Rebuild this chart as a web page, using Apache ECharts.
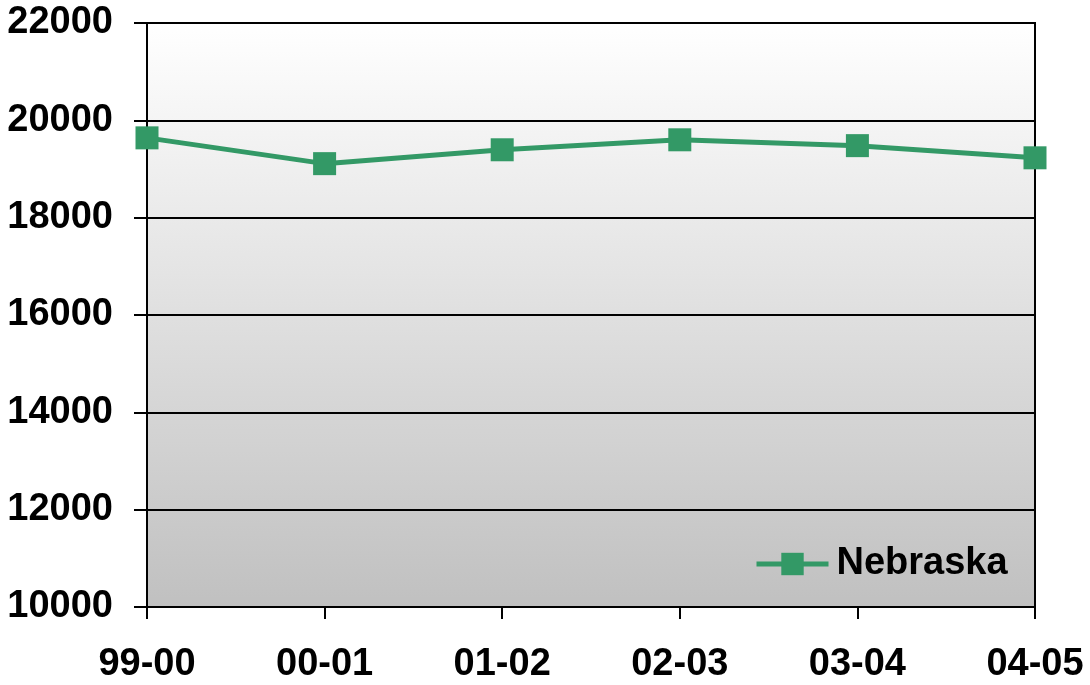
<!DOCTYPE html>
<html>
<head>
<meta charset="utf-8">
<script src="https://cdn.jsdelivr.net/npm/echarts@6/dist/echarts.min.js"></script>
<style>
  html, body { margin: 0; padding: 0; background: #ffffff; }
  #chart { width: 1090px; height: 685px; }
</style>
</head>
<body>
<div id="chart"></div>
<script>
// School years on the category axis
const years = ['99-00', '00-01', '01-02', '02-03', '03-04', '04-05'];
// Nebraska yearly values
const nebraska = [19640, 19110, 19395, 19600, 19480, 19230];
// Value axis range and step
const yMin = 10000;
const yMax = 22000;
const yStep = 2000;

const font = '"Liberation Sans", Arial, sans-serif';
const green = '#339966';

const chart = echarts.init(document.getElementById('chart'), null, { renderer: 'canvas' });

chart.setOption({
  animation: false,
  backgroundColor: '#ffffff',
  grid: {
    left: 147,
    right: 55,
    top: 23,
    bottom: 78,
    show: true,
    borderColor: '#000000',
    borderWidth: 2,
    backgroundColor: new echarts.graphic.LinearGradient(0, 0, 0, 1, [
      { offset: 0, color: '#ffffff' },
      { offset: 1, color: '#c0c0c0' }
    ])
  },
  legend: {
    show: true,
    left: 749,
    top: 540,
    itemWidth: 72,
    itemHeight: 28,
    lineStyle: { width: 5 },
    textStyle: {
      fontFamily: font,
      fontWeight: 'bold',
      fontSize: 38,
      color: '#000000',
      padding: [0, 0, 0, 3]
    },
    data: ['Nebraska']
  },
  xAxis: {
    type: 'category',
    data: years,
    boundaryGap: false,
    axisLine: { show: true, lineStyle: { color: '#000000', width: 2 } },
    axisTick: { show: true, inside: false, length: 12, lineStyle: { color: '#000000', width: 2 } },
    axisLabel: {
      margin: 39,
      fontFamily: font,
      fontWeight: 'bold',
      fontSize: 38,
      color: '#000000'
    },
    splitLine: { show: false }
  },
  yAxis: {
    type: 'value',
    min: yMin,
    max: yMax,
    interval: yStep,
    axisLine: { show: true, lineStyle: { color: '#000000', width: 2 } },
    axisTick: { show: true, inside: false, length: 13, lineStyle: { color: '#000000', width: 2 } },
    axisLabel: {
      margin: 34,
      fontFamily: font,
      fontWeight: 'bold',
      fontSize: 38,
      color: '#000000',
      formatter: (v) => String(v)
    },
    splitLine: { show: true, lineStyle: { color: '#000000', width: 2 } }
  },
  series: [{
    name: 'Nebraska',
    type: 'line',
    data: nebraska,
    symbol: 'rect',
    symbolSize: 23,
    clip: false,
    itemStyle: { color: green },
    lineStyle: { color: green, width: 5 }
  }]
});
</script>
</body>
</html>
